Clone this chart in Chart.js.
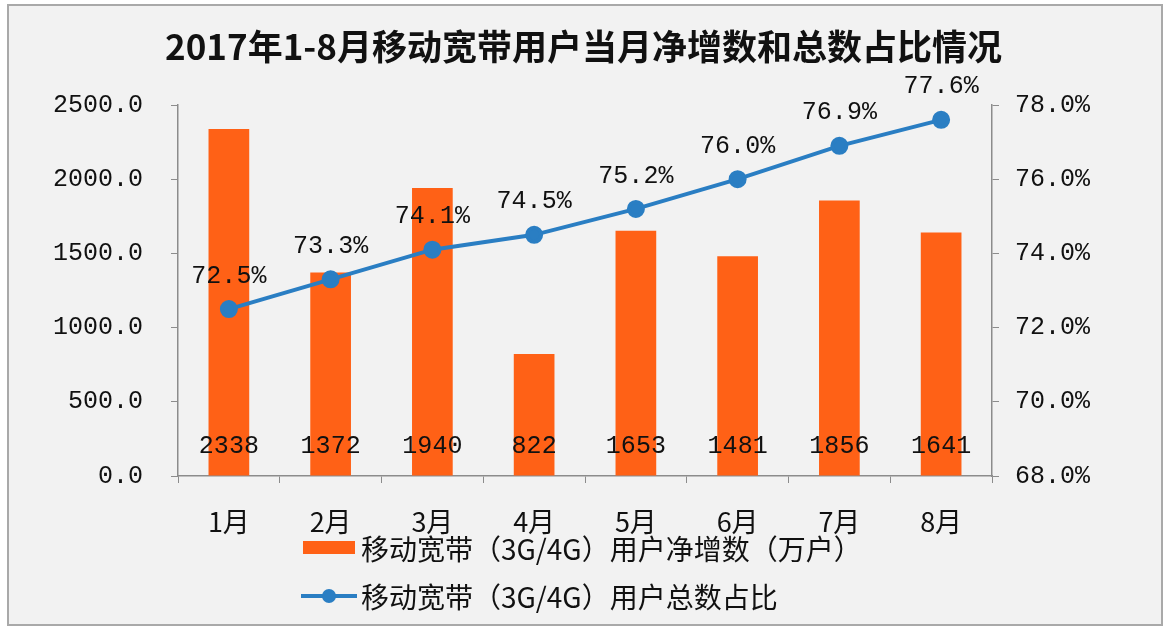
<!DOCTYPE html>
<html lang="zh">
  <head>
    <meta charset="UTF-8" />
    <title>2017年1-8月移动宽带用户当月净增数和总数占比情况</title>
    <script src="https://cdn.jsdelivr.net/npm/chart.js"></script>
    <style>
      html, body { margin: 0; padding: 0; background: #fff; }
      .wrap { position: relative; width: 1167px; height: 626px; overflow: hidden; }
      .frame {
        position: absolute; left: 7px; top: 4px; width: 1152px; height: 618px;
        border: 2px solid #a9a9a9; background: #f2f2f2;
      }
      canvas { position: absolute; left: 0; top: 0; }
      .legend { position: absolute; left: 301px; top: 530px; font-family: "Noto Sans CJK SC", sans-serif; font-size: 28px; color: #111; }
      .legend div { position: absolute; white-space: nowrap; height: 36px; line-height: 36px; }
      .sw-bar { position: absolute; left: 2px; top: 11px; width: 52px; height: 13px; background: #ff6116; }
      .sw-line { position: absolute; left: 0; top: 16px; width: 56px; height: 4px; background: #2a7ec3; }
      .sw-dot { position: absolute; left: 21px; top: 11px; width: 14px; height: 14px; border-radius: 50%; background: #2a7ec3; }
      .txt { position: absolute; left: 60px; top: 0; }
    </style>
  </head>
  <body>
    <div class="wrap">
      <div class="frame"></div>
      <canvas id="chart" width="1167" height="626"></canvas>
      <div class="legend">
        <div style="top: 0">
          <span class="sw-bar"></span>
          <span class="txt">移动宽带（3G/4G）用户净增数（万户）</span>
        </div>
        <div style="top: 48px">
          <span class="sw-line"></span><span class="sw-dot"></span>
          <span class="txt">移动宽带（3G/4G）用户总数占比</span>
        </div>
      </div>
    </div>

    <script>
      // 数据
      const months = ["1月", "2月", "3月", "4月", "5月", "6月", "7月", "8月"];
      const netAdds = [2338, 1372, 1940, 822, 1653, 1481, 1856, 1641]; // 万户
      const shareTotal = [72.5, 73.3, 74.1, 74.5, 75.2, 76.0, 76.9, 77.6]; // %
      const leftTicks = [0, 500, 1000, 1500, 2000, 2500];
      const rightTicks = [68, 70, 72, 74, 76, 78];

      const monoFont = { family: "'Liberation Mono', 'DejaVu Sans Mono', monospace", size: 25 };

      // 数值标签
      const valueLabels = {
        id: "valueLabels",
        afterDatasetsDraw(chart) {
          const ctx = chart.ctx;
          ctx.save();
          ctx.font = "25px " + monoFont.family;
          ctx.fillStyle = "#111";
          ctx.textAlign = "center";
          ctx.textBaseline = "middle";
          const bars = chart.getDatasetMeta(0).data;
          const y0 = chart.scales.y.getPixelForValue(0);
          bars.forEach((b, i) => ctx.fillText(String(netAdds[i]), b.x, y0 - 30));
          const pts = chart.getDatasetMeta(1).data;
          pts.forEach((p, i) => ctx.fillText(shareTotal[i].toFixed(1) + "%", p.x, p.y - 33));
          ctx.restore();
        },
      };

      new Chart(document.getElementById("chart"), {
        type: "bar",
        data: {
          labels: months,
          datasets: [
            {
              label: "移动宽带（3G/4G）用户净增数（万户）",
              data: netAdds,
              backgroundColor: "#ff6116",
              categoryPercentage: 1,
              barPercentage: 0.4,
              yAxisID: "y",
              order: 2,
            },
            {
              label: "移动宽带（3G/4G）用户总数占比",
              data: shareTotal,
              type: "line",
              borderColor: "#2a7ec3",
              backgroundColor: "#2a7ec3",
              borderWidth: 4,
              pointRadius: 7,
              pointHoverRadius: 7,
              tension: 0,
              yAxisID: "y2",
              order: 1,
            },
          ],
        },
        options: {
          responsive: false,
          animation: false,
          layout: { padding: 0 },
          scales: {
            x: {
              grid: { drawOnChartArea: false, tickLength: 7, color: "#8c8c8c" },
              border: { color: "#8c8c8c", width: 1.5 },
              ticks: { color: "#111", padding: 23, font: { family: "'Noto Sans CJK SC', sans-serif", size: 27 } },
              afterFit: (s) => { s.height = 150; },
            },
            y: {
              position: "left",
              min: 0,
              max: 2500,
              afterBuildTicks: (s) => { s.ticks = leftTicks.map((v) => ({ value: v })); },
              grid: { drawOnChartArea: false, tickLength: 7, color: "#8c8c8c" },
              border: { color: "#8c8c8c", width: 1.5 },
              ticks: { color: "#111", padding: 28, font: monoFont, callback: (v) => v.toFixed(1) },
              afterFit: (s) => { s.width = 178; },
            },
            y2: {
              position: "right",
              min: 68,
              max: 78,
              afterBuildTicks: (s) => { s.ticks = rightTicks.map((v) => ({ value: v })); },
              grid: { drawOnChartArea: false, tickLength: 7, color: "#8c8c8c" },
              border: { color: "#8c8c8c", width: 1.5 },
              ticks: { color: "#111", padding: 16, font: monoFont, callback: (v) => v.toFixed(1) + "%" },
              afterFit: (s) => { s.width = 175; },
            },
          },
          plugins: {
            legend: { display: false },
            tooltip: { enabled: false },
            title: {
              display: true,
              text: "2017年1-8月移动宽带用户当月净增数和总数占比情况",
              color: "#111",
              font: { family: "'Noto Sans CJK SC', sans-serif", size: 35, weight: "bold", lineHeight: 1.2 },
              padding: { top: 26, bottom: 37 },
            },
          },
        },
        plugins: [valueLabels],
      });
    </script>
  </body>
</html>
